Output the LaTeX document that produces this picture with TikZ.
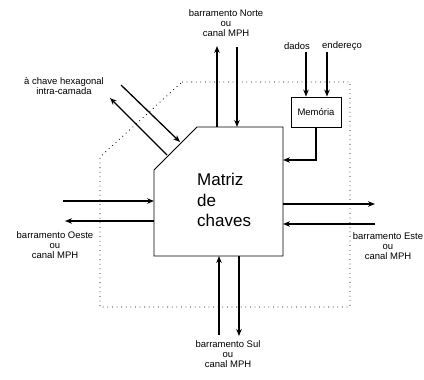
\documentclass[tikz,border=0pt]{standalone}
\usepackage{fontspec}
\setmainfont{Liberation Sans}
\usetikzlibrary{arrows.meta}
\begin{document}
\begin{tikzpicture}[x=1pt,y=-1pt,
  bus/.style={line width=1.3pt, -{Stealth[length=7pt,width=5.5pt]}},
  lbl/.style={font=\fontsize{9.5}{10}\selectfont, align=center, inner sep=0pt},
  frame/.style={line width=0.8pt},
  zone/.style={line width=0.8pt, dash pattern=on 0.8pt off 3.8pt}]
\useasboundingbox (0,0) rectangle (424,380);

% dotted zone around the switch matrix
\draw[zone] (182,82) -- (350,82) -- (350,307) -- (100,307) -- (100,157) -- cycle;

% switch matrix with its cut corner
\draw[frame] (197,127) -- (283,127) -- (283,256) -- (154,256) -- (154,170) -- cycle;
\node[anchor=north west, align=left, inner sep=0pt,
      font=\fontsize{17}{20.5}\selectfont] (mtx) at (197,173) {Matriz\\de\\chaves};

% memory block
\node[draw, frame, lbl, minimum width=50pt, minimum height=30pt] (mem) at (316,112) {Memória};
\node[lbl] (dados) at (297,46) {dados};
\node[lbl] (ender) at (342,46) {endereço};
\coordinate (dIn) at (306,52);
\coordinate (eIn) at (327,52);
\draw[bus] (dIn) -- (dIn |- mem.north);
\draw[bus] (eIn) -- (eIn |- mem.north);
\coordinate (memTap) at (283,160);
\draw[bus] (mem.south) |- (memTap);

% north bus
\coordinate (nA) at (217,127);
\coordinate (nAe) at (217,46);
\coordinate (nB) at (237,47);
\coordinate (nBe) at (237,127);
\draw[bus] (nA) -- (nAe);
\draw[bus] (nB) -- (nBe);
\node[lbl] (north) at (226,23) {barramento Norte\\ou\\canal MPH};

% south bus
\coordinate (sA) at (219,335);
\coordinate (sAe) at (219,256);
\coordinate (sB) at (239,256);
\coordinate (sBe) at (239,336);
\draw[bus] (sA) -- (sAe);
\draw[bus] (sB) -- (sBe);
\node[lbl] (south) at (228,354) {barramento Sul\\ou\\canal MPH};

% west bus
\coordinate (wA) at (63,201);
\coordinate (wAe) at (154,201);
\coordinate (wB) at (154,221);
\coordinate (wBe) at (65,221);
\draw[bus] (wA) -- (wAe);
\draw[bus] (wB) -- (wBe);
\node[lbl] (west) at (55,245) {barramento Oeste\\ou\\canal MPH};

% east bus
\coordinate (eA) at (283,204);
\coordinate (eAe) at (375,204);
\coordinate (eB) at (375,224);
\coordinate (eBe) at (283,224);
\draw[bus] (eA) -- (eAe);
\draw[bus] (eB) -- (eBe);
\node[lbl] (east) at (388,246) {barramento Este\\ou\\canal MPH};

% intra-layer hexagonal link
\coordinate (hA) at (121,85);
\coordinate (hAe) at (180,142);
\coordinate (hB) at (167,155);
\coordinate (hBe) at (110,98);
\draw[bus] (hA) -- (hAe);
\draw[bus] (hB) -- (hBe);
\node[lbl] (hex) at (64,86) {à chave hexagonal\\intra-camada};
\end{tikzpicture}
\end{document}
